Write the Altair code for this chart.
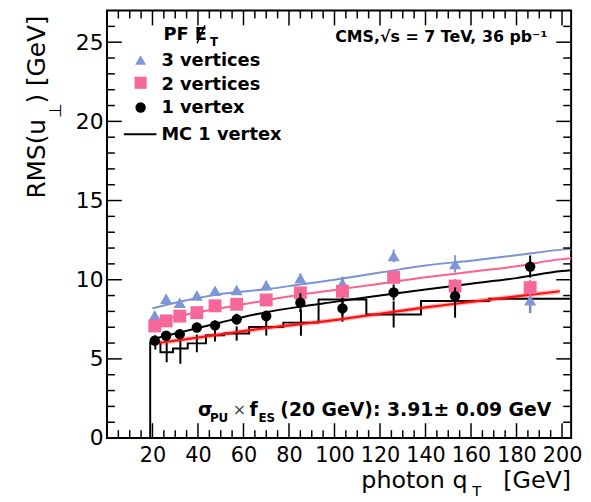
import altair as alt
import pandas as pd

# ---------------- data ----------------
qt = [21, 26, 32, 39.5, 47.5, 57, 70, 85, 103.5, 126, 153, 186]

v3 = [7.75, 8.8, 8.55, 9.0, 9.3, 9.35, 9.65, 10.1, 9.8, 11.5, 11.0, 8.7]
e3 = [0.2, 0.2, 0.2, 0.2, 0.2, 0.2, 0.25, 0.3, 0.4, 0.4, 0.55, 0.8]

v2 = [7.08, 7.4, 7.7, 7.92, 8.35, 8.45, 8.72, 9.17, 9.27, 10.15, 9.6, 9.5]
e2 = [0.2, 0.2, 0.2, 0.2, 0.2, 0.25, 0.25, 0.3, 0.35, 0.4, 0.45, 0.5]

v1 = [6.15, 6.46, 6.56, 6.98, 7.12, 7.5, 7.71, 8.55, 8.19, 9.2, 8.96, 10.83]
e1 = [0.25, 0.3, 0.3, 0.3, 0.3, 0.35, 0.35, 0.6, 0.45, 0.5, 0.55, 0.7]

mc_edges = [19, 23.5, 29, 35.5, 43.5, 51.5, 62.5, 77.5, 93, 114, 138, 168, 204]
mc_vals = [6.04, 5.42, 5.65, 5.98, 6.5, 6.6, 7.02, 7.29, 8.75, 7.81, 8.65, 8.8]
mc_errs = [0.45, 0.63, 0.96, 0.56, 0.4, 0.45, 0.55, 0.83, 1.4, 0.83, 1.05, 0.9]

fit_q = [20, 30, 40, 50, 60, 70, 85, 100, 120, 140, 160, 180, 200, 204]
fit_blue = [8.2, 8.55, 8.85, 9.1, 9.25, 9.4, 9.7, 10.0, 10.45, 10.9, 11.2, 11.55, 11.9, 11.95]
fit_pink = [7.3, 7.65, 7.95, 8.2, 8.45, 8.7, 9.05, 9.35, 9.75, 10.15, 10.5, 10.85, 11.3, 11.35]
fit_black = [6.25, 6.6, 6.95, 7.3, 7.65, 7.95, 8.3, 8.6, 9.0, 9.38, 9.75, 10.1, 10.55, 10.6]
red_q = [20, 30, 40, 50, 60, 70, 85, 100, 120, 140, 160, 180, 199]
fit_red = [5.95, 6.15, 6.35, 6.55, 6.75, 6.95, 7.2, 7.45, 7.85, 8.25, 8.6, 8.95, 9.27]

x_major = [20, 40, 60, 80, 100, 120, 140, 160, 180, 200]
x_minor = [v for v in range(5, 205, 5) if v % 20 != 0]
y_major = [0, 5, 10, 15, 20, 25]
y_minor = [v for v in range(1, 27) if v % 5 != 0]

# ---------------- styles ----------------
W, H = 469, 432
BLUE = "#7d96d6"
BLUE_L = "#7a93d4"
PINK = "#f7689a"
PINK_L = "#ff5f8d"
RED = "#ff1010"
FONT = "DejaVu Sans"

xs = alt.Scale(domain=[0, 204], nice=False, zero=False)
ys = alt.Scale(domain=[0, 27], nice=False, zero=False)

XAX = alt.Axis(values=x_major, labelFontSize=21, labelFont=FONT, labelColor="black",
               ticks=False, domain=False, grid=False, labelPadding=7,
               labelOverlap=False, labelFlush=False, title="")
YAX = alt.Axis(values=y_major, labelFontSize=22, labelFont=FONT, labelColor="black",
               ticks=False, domain=False, grid=False, labelPadding=4,
               labelOverlap=False, labelFlush=False, title="")


def X(f):
    return alt.X(f, type="quantitative", scale=xs, axis=XAX, title="")


def Y(f):
    return alt.Y(f, type="quantitative", scale=ys, axis=YAX, title="")


layers = []

# MC histogram (step outline)
hx, hy = [mc_edges[0]], [0.0]
for i, v in enumerate(mc_vals):
    hx += [mc_edges[i], mc_edges[i + 1]]
    hy += [v, v]
hist = pd.DataFrame({"x": hx, "y": hy, "o": list(range(len(hx)))})
layers.append(alt.Chart(hist).mark_line(color="black", strokeWidth=2).encode(
    x=X("x"), y=Y("y"), order="o:Q"))

# MC error bars at bin centres
mcc = [(mc_edges[i] + mc_edges[i + 1]) / 2 for i in range(len(mc_vals))]
mcdf = pd.DataFrame({"x": mcc, "lo": [v - e for v, e in zip(mc_vals, mc_errs)],
                     "hi": [v + e for v, e in zip(mc_vals, mc_errs)]})
layers.append(alt.Chart(mcdf).mark_rule(color="black", strokeWidth=2).encode(
    x=X("x"), y=Y("lo"), y2="hi:Q"))

# fit curves (red one with a soft halo as in the reference)
layers.append(alt.Chart(pd.DataFrame({"x": red_q, "y": fit_red})).mark_line(
    color=RED, strokeWidth=5, opacity=0.25, interpolate="monotone").encode(x=X("x"), y=Y("y")))
for qs, vals, col, sw in [(red_q, fit_red, RED, 2.2), (fit_q, fit_black, "black", 2),
                          (fit_q, fit_pink, PINK_L, 2), (fit_q, fit_blue, BLUE_L, 2)]:
    d = pd.DataFrame({"x": qs, "y": vals})
    layers.append(alt.Chart(d).mark_line(color=col, strokeWidth=sw, interpolate="monotone").encode(
        x=X("x"), y=Y("y")))

# data points with error bars
for vals, errs, col, shape, size in [(v3, e3, BLUE, "triangle-up", 150),
                                     (v2, e2, PINK, "square", 170),
                                     (v1, e1, "black", "circle", 110)]:
    d = pd.DataFrame({"x": qt, "y": vals,
                      "lo": [v - e for v, e in zip(vals, errs)],
                      "hi": [v + e for v, e in zip(vals, errs)]})
    layers.append(alt.Chart(d).mark_rule(color=col, strokeWidth=2).encode(
        x=X("x"), y=Y("lo"), y2="hi:Q"))
    layers.append(alt.Chart(d).mark_point(shape=shape, filled=True, size=size, color=col,
                                          opacity=1, strokeWidth=0).encode(x=X("x"), y=Y("y")))


# inward ticks on all four sides
def tick_df(vals):
    return pd.DataFrame({"v": vals})


for vals, ln in [(y_major, 15), (y_minor, 8)]:
    layers.append(alt.Chart(tick_df(vals)).mark_rule(color="black", strokeWidth=1.5).encode(
        y=alt.Y("v:Q", scale=ys, axis=YAX, title=""), x=alt.value(0), x2=alt.value(ln)))
    layers.append(alt.Chart(tick_df(vals)).mark_rule(color="black", strokeWidth=1.5).encode(
        y=alt.Y("v:Q", scale=ys, axis=YAX, title=""), x=alt.value(W - ln), x2=alt.value(W)))
for vals, ln in [(x_major, 15), (x_minor, 8)]:
    layers.append(alt.Chart(tick_df(vals)).mark_rule(color="black", strokeWidth=1.5).encode(
        x=alt.X("v:Q", scale=xs, axis=XAX, title=""), y=alt.value(H), y2=alt.value(H - ln)))
    layers.append(alt.Chart(tick_df(vals)).mark_rule(color="black", strokeWidth=1.5).encode(
        x=alt.X("v:Q", scale=xs, axis=XAX, title=""), y=alt.value(0), y2=alt.value(ln)))


def txt(text, x, y, size, weight="bold", align="left", baseline="alphabetic", angle=0,
        color="black"):
    return alt.Chart(pd.DataFrame({"t": [text]})).mark_text(
        font=FONT, fontSize=size, fontWeight=weight, align=align, baseline=baseline,
        angle=angle, color=color).encode(x=alt.value(x), y=alt.value(y), text="t:N")


def sym(shape, x, y, size, color):
    return alt.Chart(pd.DataFrame({"a": [0]})).mark_point(
        shape=shape, filled=True, size=size, color=color, opacity=1, strokeWidth=0).encode(
        x=alt.value(x), y=alt.value(y))


# legend
layers += [
    txt("PF E", 57, 30, 18),
    alt.Chart(pd.DataFrame({"a": [0]})).mark_rule(color="black", strokeWidth=1.5).encode(
        x=alt.value(91), y=alt.value(33), x2=alt.value(99), y2=alt.value(15)),
    txt("T", 104, 36, 12),
    sym("triangle-up", 34, 50, 120, BLUE), txt("3 vertices", 55, 56, 18),
    sym("square", 34, 73, 150, PINK), txt("2 vertices", 55, 80, 18),
    sym("circle", 34, 98, 110, "black"), txt("1 vertex", 55, 104, 18),
    alt.Chart(pd.DataFrame({"a": [0]})).mark_rule(color="black", strokeWidth=2).encode(
        x=alt.value(17), x2=alt.value(50), y=alt.value(125)),
    txt("MC 1 vertex", 55, 131, 18),
    txt("CMS,\u221as = 7 TeV, 36 pb\u207b\u00b9", 445, 32, 16, align="right"),
]

# annotation
layers += [
    txt("\u03c3", 92, 410, 19),
    txt("PU", 104, 416, 12),
    txt("\u00d7", 127, 409, 16, weight="normal", color="#444444"),
    txt("f", 144, 410, 19),
    txt("ES", 153, 416, 12),
    txt("(20 GeV): 3.91\u00b1 0.09 GeV", 449, 410, 19, align="right"),
]

# axis titles
layers += [
    txt(") [GeV]", -63, 5, 25, weight="normal", align="right", angle=270),
    txt("\u22a5", -46, 101, 17, weight="normal", align="center", angle=270),
    txt("RMS(u", -63, 190, 25, weight="normal", align="left", angle=270),
    txt("photon q", 257, 482, 24, weight="normal"),
    txt("T", 369, 491, 15, weight="normal"),
    txt("[GeV]", 469, 482, 24, weight="normal", align="right"),
]

chart = alt.layer(*layers).properties(
    width=W, height=H,
    autosize=alt.AutoSizeParams(type="none"),
    padding={"left": 100, "top": 0, "right": 12, "bottom": 58},
).configure_view(stroke="black", strokeWidth=2)

chart.save("out.html", embed_options={"renderer": "svg", "actions": False})
